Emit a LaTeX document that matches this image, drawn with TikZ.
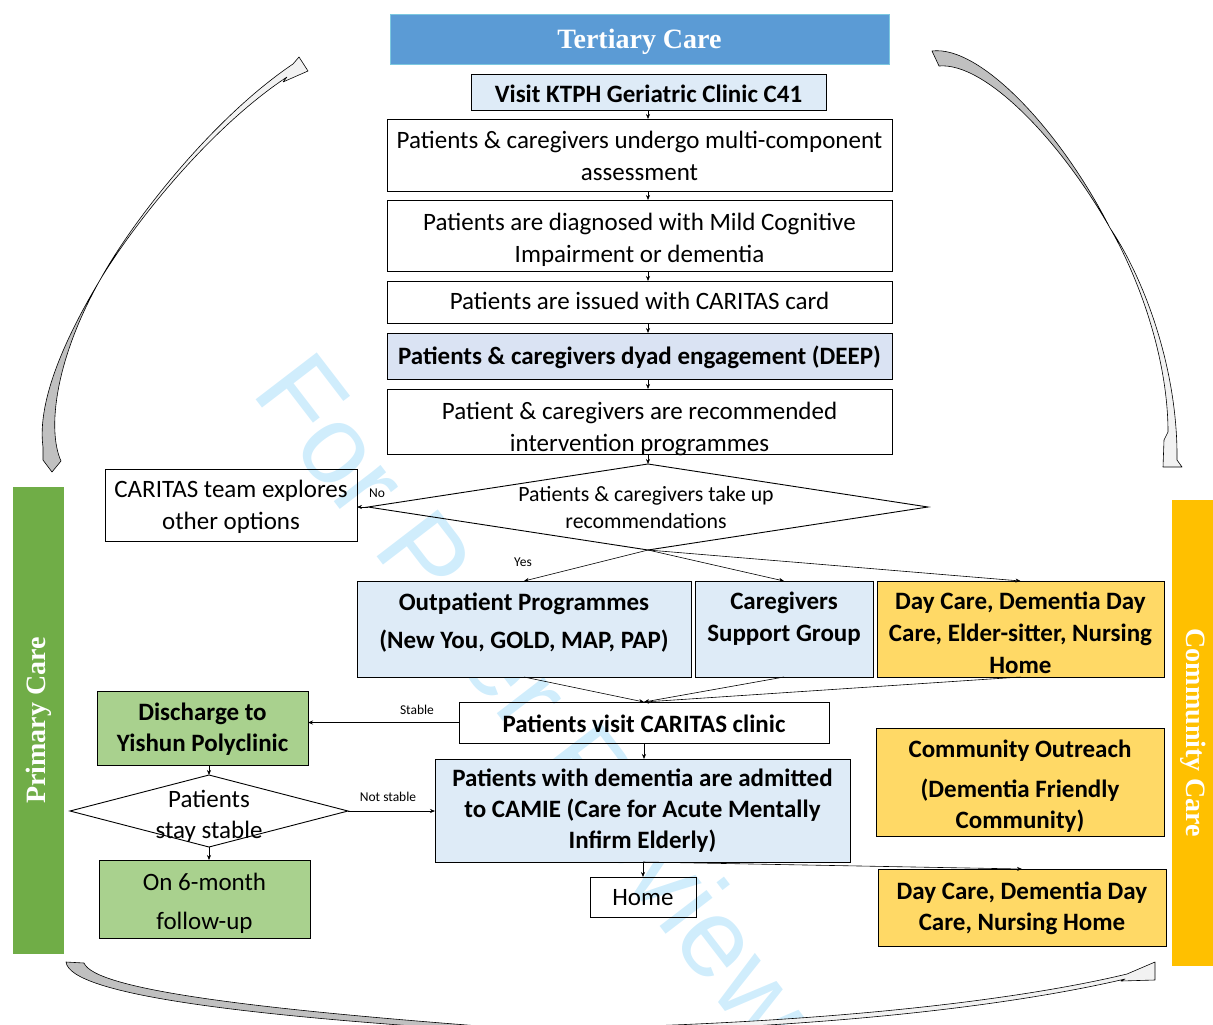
\documentclass[tikz,border=0pt]{standalone}
\usepackage{fontspec}
\setmainfont{Carlito}
\newfontfamily\headfont{Liberation Serif}
\newfontfamily\markfont{Liberation Sans}
\usetikzlibrary{arrows.meta,shapes.geometric}

\definecolor{tblue}{HTML}{5B9BD5}
\definecolor{tborder}{HTML}{7CC8E0}
\definecolor{lblue}{HTML}{DEEBF7}
\definecolor{dblue}{HTML}{DAE3F3}
\definecolor{gold}{HTML}{FFD966}
\definecolor{goldbar}{HTML}{FFC000}
\definecolor{lgreen}{HTML}{A9D18E}
\definecolor{pgreen}{HTML}{70AD47}
\definecolor{ribdark}{HTML}{C0C0C0}
\definecolor{riblight}{HTML}{F2F2F2}
\definecolor{wm}{RGB}{208,237,252}

% box from corner (x1,y1) to corner (x2,y2), y measured downwards;
% its text is a separate node <name>-t placed on the box centre
\newcommand\flowbox[8]{%
  \node[frame, #6, minimum width={(#4-#2)*1pt}, minimum height={(#5-#3)*1pt}]
    (#1) at ({(#2+#4)/2},{(#3+#5)/2}) {};
  \node[#7] (#1-t) at (#1.center) {#8};}

\begin{document}
\begin{tikzpicture}[x=1pt,y=-1pt,
  every node/.style={inner sep=0pt, outer sep=0pt},
  frame/.style={draw=black, line width=0.9pt},
  nt/.style={align=center, font=\fontsize{25}{32}\selectfont},
  bt/.style={align=center, font=\bfseries\fontsize{25}{31}\selectfont},
  dn/.style={yshift=-#1pt},
  decision/.style={draw=black, line width=0.9pt, diamond},
  arr/.style={-{Stealth[length=5pt,width=4pt]}, line width=0.6pt},
  tag/.style={font=\fontsize{13.5}{15}\selectfont},
  bar/.style={text=white, font=\headfont\bfseries\fontsize{28}{30}\selectfont},
  ribbon/.style={draw=black, line width=0.6pt, line join=round}]

\useasboundingbox (0,0) rectangle (1213,1025);
\clip (0,0) rectangle (1213,1025);

% watermark
\node[rotate=-52.5, anchor=base west, text=wm,
      font=\markfont\fontsize{112}{112}\selectfont] (wmark) at (250,392) {For Peer Review};

% care level banners
\node[fill=tblue, draw=tborder, line width=0.8pt, minimum width=499pt, minimum height=50pt] (tertiary) at (639.5,39) {};
\node[bar, yshift=-3pt] (tertiary-t) at (tertiary.center) {Tertiary Care};
\node[fill=pgreen, rotate=90, minimum width=467pt, minimum height=51pt, bar] (primary) at (38.5,720.5) {Primary Care};
\node[fill=goldbar, rotate=-90, minimum width=466pt, minimum height=42pt, bar] (community) at (1193,733) {Community Care};

% curved block arrows between care levels
% left: primary -> tertiary
\filldraw[ribbon, fill=ribdark] (43,447) -- (43,460) -- (52,472) -- (61,461)
  .. controls (47,430) and (55,360) .. (100,280)
  .. controls (55,355) and (38,410) .. (43,447) -- cycle;
\filldraw[ribbon, fill=riblight] (100,280)
  .. controls (130,225) and (210,120) .. (293,64)
  -- (299,57) -- (308,71) -- (283,82) -- (287,77)
  .. controls (210,128) and (135,222) .. (100,280) -- cycle;
% right: tertiary -> community
\filldraw[ribbon, fill=ribdark] (932,51) .. controls (980,45) and (1060,130) .. (1110,228)
  .. controls (1060,140) and (985,62) .. (939,66) -- cycle;
\filldraw[ribbon, fill=riblight] (1110,228) .. controls (1140,280) and (1168,360) .. (1168,432)
  -- (1164,440) -- (1163,467) -- (1182,467) -- (1177,460)
  .. controls (1178,370) and (1145,280) .. (1110,228) -- cycle;
% bottom: primary -> community
\filldraw[ribbon, fill=ribdark] (66,962) -- (84,963)
  .. controls (95,990) and (260,1010) .. (520,1029)
  -- (520,1033) .. controls (250,1017) and (70,995) .. (66,962) -- cycle;
\filldraw[ribbon, fill=riblight] (520,1029) .. controls (850,1025) and (1040,995) .. (1127,974)
  -- (1155,962) -- (1155,980) -- (1121,981) -- (1125,979)
  .. controls (1040,999) and (850,1031) .. (520,1033) -- cycle;

% tertiary care pathway
\coordinate (spine) at (648,0);
\flowbox{visit}{471}{74}{826}{110}{fill=lblue}{bt, dn=2}{Visit KTPH Geriatric Clinic C41}
\flowbox{assess}{387}{119}{892}{191}{}{nt, dn=1}{Patients \& caregivers undergo multi-component\\assessment}
\flowbox{diag}{387}{200}{892}{271}{}{nt, dn=4}{Patients are diagnosed with Mild Cognitive\\Impairment or dementia}
\flowbox{card}{387}{281}{892}{323}{}{nt, dn=-1}{Patients are issued with CARITAS card}
\flowbox{deep}{387}{333}{892}{379}{fill=dblue}{bt, dn=1}{Patients \& caregivers dyad engagement (DEEP)}
\flowbox{recom}{387}{389}{892}{454}{}{nt, dn=7}{Patient \& caregivers are recommended\\intervention programmes}

\node[decision, minimum width=560pt, minimum height=86pt] (take) at (648,507) {};
\node[align=center, font=\fontsize{21.8}{27}\selectfont] (take-t) at (646,508)
  {Patients \& caregivers take up\\recommendations};

\flowbox{explore}{105}{469}{357}{541}{}{nt, dn=2}{CARITAS team explores\\other options}

\flowbox{outp}{357}{581}{691}{677}{fill=lblue}{bt, dn=-6, font=\bfseries\fontsize{25}{38}\selectfont}{Outpatient Programmes\\(New You, GOLD, MAP, PAP)}
\flowbox{support}{695}{581}{873}{677}{fill=lblue}{bt, dn=-10, font=\bfseries\fontsize{25}{32}\selectfont}{Caregivers\\Support Group}
\flowbox{daycare}{877}{581}{1164}{677}{fill=gold}{bt, dn=4, font=\bfseries\fontsize{25}{32}\selectfont}{Day Care, Dementia Day\\Care, Elder-sitter, Nursing\\Home}

\flowbox{clinic}{459}{702}{829}{743}{}{bt, dn=1}{Patients visit CARITAS clinic}
\flowbox{camie}{435}{759}{850}{862}{fill=lblue}{bt}{Patients with dementia are admitted\\to CAMIE (Care for Acute Mentally\\Infirm Elderly)}
\flowbox{home}{590}{877}{696}{917}{}{nt, dn=1}{Home}

% primary care
\flowbox{discharge}{97}{691}{308}{765}{fill=lgreen}{bt, dn=1}{Discharge to\\Yishun Polyclinic}
\node[decision, minimum width=278pt, minimum height=72pt] (stable) at (209,811) {};
\node[nt, font=\fontsize{25}{31}\selectfont] (stable-t) at (209,816) {Patients\\stay stable};
\flowbox{followup}{99}{860}{310}{938}{fill=lgreen}{nt, dn=4, font=\fontsize{25}{39}\selectfont}{On 6-month\\follow-up}

% community care
\flowbox{outreach}{876}{728}{1164}{836}{fill=gold}{bt, dn=4}{Community Outreach\\[9pt](Dementia Friendly\\Community)}
\flowbox{daycare2}{878}{869}{1166}{946}{fill=gold}{bt, dn=1}{Day Care, Dementia Day\\Care, Nursing Home}

% connectors
\draw[arr] (visit.south -| spine) -- (assess.north -| spine);
\draw[arr] (assess.south -| spine) -- (diag.north -| spine);
\draw[arr] (diag.south -| spine) -- (card.north -| spine);
\draw[arr] (card.south -| spine) -- (deep.north -| spine);
\draw[arr] (deep.south -| spine) -- (recom.north -| spine);
\draw[arr] (recom.south -| spine) -- (take.north);

\draw[arr] (take.west) -- (take.west -| explore.east);
\node[tag] (no) at (377,493) {No};
\draw[arr] (take.south) -- (outp.north);
\node[tag] (yes) at (523,562) {Yes};
\draw[arr] (take.south) -- (support.north);
\draw[arr] (take.south) -- (daycare.north);

\draw[arr] (outp.south) -- (clinic.north);
\draw[arr] (support.south) -- (clinic.north);
\draw[arr] (daycare.south) -- (clinic.north);

\draw[arr] (clinic.west) -- (clinic.west -| discharge.east);
\node[tag] (stabletag) at (417,710) {Stable};
\draw[arr] (clinic.south) -- (clinic.south |- camie.north);

\draw[arr] (stable.north |- discharge.south) -- (stable.north);
\draw[arr] (stable.south) -- (stable.south |- followup.north);
\draw[arr] (stable.east) -- (stable.east -| camie.west);
\node[tag] (notstable) at (388,797) {Not stable};

\draw[arr] (camie.south -| home.north) -- (home.north);
\draw[arr] (camie.south -| home.north) -- (daycare2.north);

\end{tikzpicture}
\end{document}
